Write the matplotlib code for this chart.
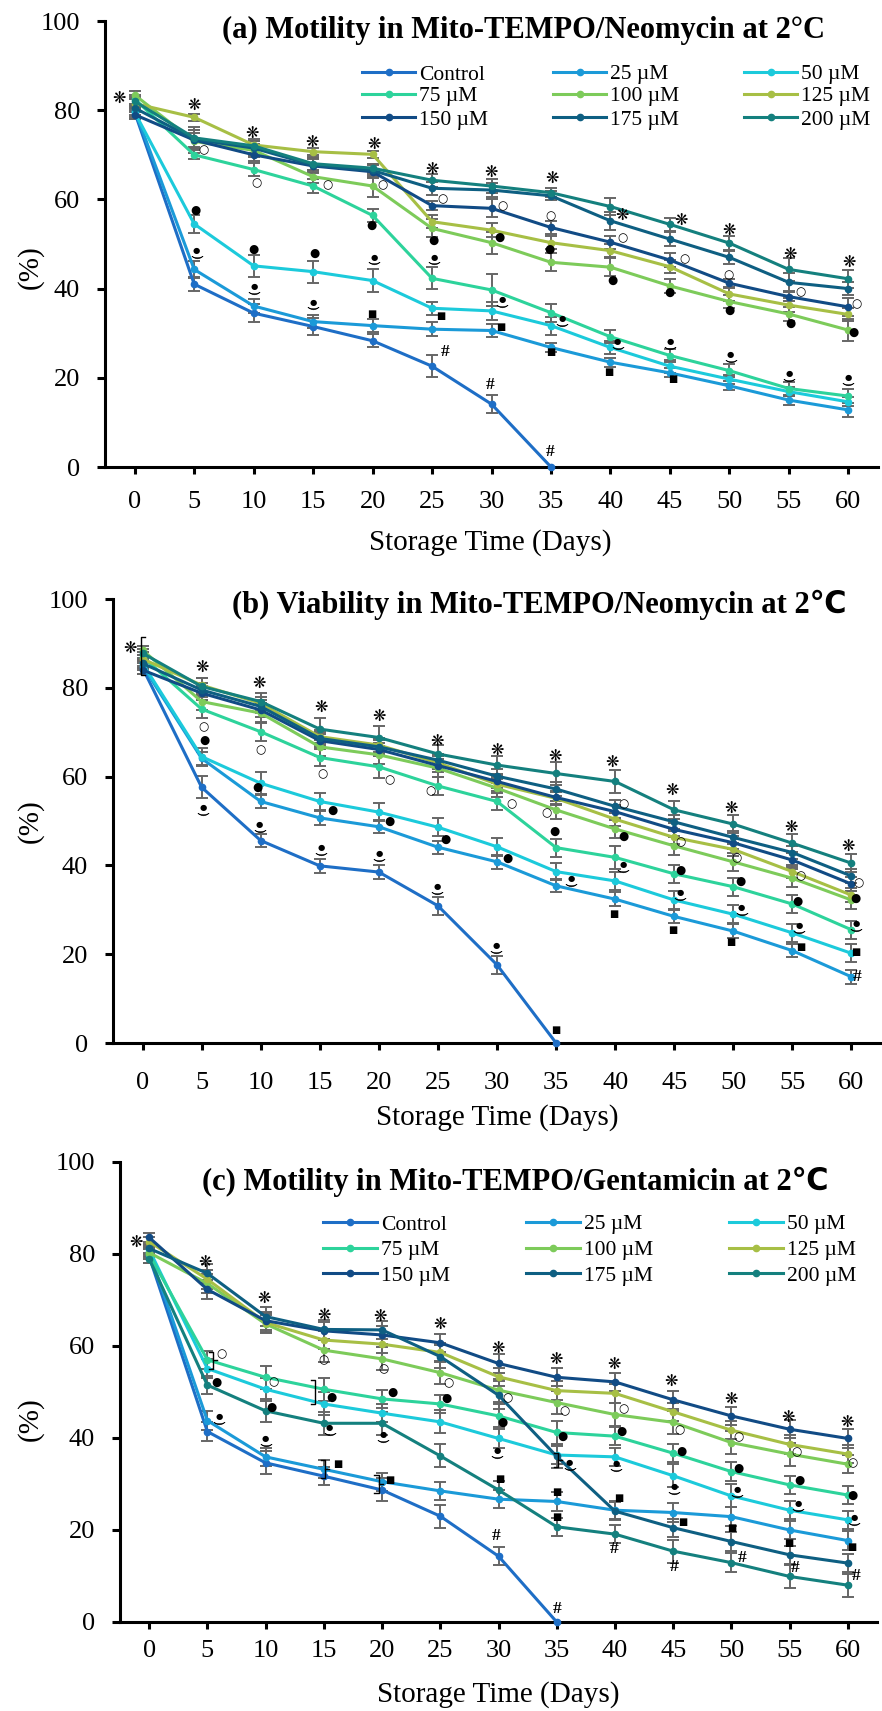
import numpy as np
import matplotlib
matplotlib.use("Agg")
import matplotlib.pyplot as plt
from matplotlib.lines import Line2D

plt.rcParams['font.family'] = ['Liberation Serif', 'DejaVu Serif']

# ---------------- data ----------------
days = [0, 5, 10, 15, 20, 25, 30, 35, 40, 45, 50, 55, 60]
labels = ['Control', '25 µM', '50 µM', '75 µM', '100 µM', '125 µM', '150 µM', '175 µM', '200 µM']
colors = ['#1E6EC6', '#1B9AD8', '#1CCADB', '#2DD39B', '#7DCB5A', '#A7BF45', '#114B85', '#0E5F82', '#14807E']

# (a) Motility, Mito-TEMPO/Neomycin
a_control = [79.5, 41.0, 34.5, 31.5, 28.3, 22.6, 14.1, 0]
a_25 = [80.0, 44.3, 36.1, 32.6, 31.7, 30.9, 30.6, 26.8, 23.5, 21.1, 18.2, 15.0, 12.8]
a_50 = [79.5, 54.5, 45.1, 43.8, 41.8, 35.6, 35.0, 31.7, 26.8, 22.6, 19.7, 16.9, 14.6]
a_75 = [82.5, 70.0, 66.7, 63.0, 56.4, 42.3, 39.7, 34.6, 29.2, 25.0, 21.6, 17.6, 15.9]
a_100 = [83.4, 73.0, 71.0, 65.1, 63.0, 53.5, 50.3, 45.9, 44.8, 40.6, 37.1, 34.3, 30.7]
a_125 = [81.5, 78.4, 72.2, 70.7, 70.1, 55.0, 53.1, 50.3, 48.5, 44.9, 38.8, 36.3, 34.2]
a_150 = [79.0, 73.3, 70.0, 67.5, 66.2, 58.6, 58.0, 53.7, 50.4, 46.4, 41.2, 38.2, 35.9]
a_175 = [80.5, 73.5, 71.5, 67.7, 66.5, 62.5, 62.1, 60.8, 55.2, 51.1, 47.0, 41.4, 40.0]
a_200 = [82.0, 73.8, 72.0, 68.0, 67.0, 64.3, 63.0, 61.5, 58.4, 54.4, 50.2, 44.3, 42.2]
a_control_err = [1.5, 1.5, 2.0, 2.0, 1.5, 2.5, 2.0, 0]
a_25_err = [1.0, 2.0, 1.5, 1.5, 1.5, 1.5, 1.5, 1.0, 1.0, 1.0, 1.0, 1.0, 1.5]
a_50_err = [1.0, 2.0, 2.5, 2.5, 2.5, 1.5, 2.0, 2.0, 1.5, 1.5, 1.0, 1.0, 1.0]
a_75_err = [1.0, 1.0, 1.5, 1.5, 1.5, 2.5, 3.5, 2.0, 1.5, 1.5, 1.5, 1.5, 1.5]
a_100_err = [1.0, 2.5, 1.5, 1.5, 2.5, 2.0, 2.5, 2.0, 2.0, 1.5, 1.5, 1.5, 2.5]
a_125_err = [1.0, 0.8, 0.8, 0.8, 0.8, 1.5, 1.5, 1.5, 1.5, 1.5, 1.5, 1.5, 1.5]
a_150_err = [1.0, 1.5, 1.5, 1.5, 1.5, 1.0, 2.0, 1.5, 1.5, 1.5, 1.0, 1.0, 2.0]
a_175_err = [1.0, 2.0, 1.5, 1.5, 1.5, 1.5, 1.5, 1.0, 2.0, 1.5, 1.5, 2.0, 1.5]
a_200_err = [1.0, 2.5, 1.5, 1.5, 1.0, 1.5, 1.5, 1.0, 2.0, 1.5, 1.5, 2.5, 2.0]

# (b) Viability, Mito-TEMPO/Neomycin
b_control = [84.5, 57.6, 45.6, 39.9, 38.5, 30.9, 17.6, 0]
b_25 = [85.0, 64.1, 54.4, 50.7, 48.7, 44.1, 40.8, 35.4, 32.4, 28.5, 25.2, 20.8, 14.9]
b_50 = [85.5, 64.5, 58.5, 54.4, 52.0, 48.6, 44.2, 38.6, 36.5, 32.2, 29.0, 24.8, 20.2]
b_75 = [87.0, 75.2, 70.1, 64.3, 62.2, 57.9, 54.4, 44.0, 41.8, 38.1, 35.2, 31.3, 25.5]
b_100 = [88.5, 76.9, 74.3, 66.7, 64.9, 61.9, 57.4, 52.5, 48.2, 44.4, 40.8, 37.1, 32.2]
b_125 = [86.5, 80.6, 76.5, 69.0, 67.1, 63.1, 58.3, 55.1, 50.4, 46.3, 43.6, 38.6, 33.3]
b_150 = [84.0, 78.8, 75.0, 68.1, 66.1, 62.5, 58.9, 55.3, 52.1, 48.1, 45.1, 41.2, 35.8]
b_175 = [85.5, 79.5, 75.8, 68.6, 66.7, 63.7, 60.1, 57.2, 53.3, 49.8, 46.3, 42.9, 37.6]
b_200 = [87.8, 80.3, 76.9, 70.7, 68.8, 65.1, 62.6, 60.7, 58.9, 52.5, 49.3, 45.0, 40.5]
b_control_err = [1.5, 2.5, 1.5, 1.5, 1.5, 2.0, 2.0, 0]
b_25_err = [1.0, 1.5, 1.5, 1.5, 1.5, 1.5, 1.5, 1.5, 1.5, 1.5, 1.5, 1.5, 1.5]
b_50_err = [1.0, 2.0, 2.5, 2.0, 2.0, 2.0, 2.0, 2.0, 2.0, 2.0, 2.0, 2.0, 2.0]
b_75_err = [1.0, 2.0, 2.0, 2.0, 2.5, 2.0, 2.0, 2.0, 2.5, 2.0, 2.0, 2.0, 2.0]
b_100_err = [1.0, 2.0, 2.0, 2.0, 2.0, 2.0, 2.0, 2.0, 2.0, 2.0, 2.0, 2.0, 2.0]
b_125_err = [1.0, 1.5, 1.5, 1.5, 1.5, 1.5, 1.5, 1.5, 1.5, 1.5, 1.5, 1.5, 1.5]
b_150_err = [1.0, 1.5, 1.5, 1.5, 1.5, 1.5, 1.5, 1.5, 1.5, 1.5, 1.5, 1.5, 1.5]
b_175_err = [1.0, 1.5, 1.5, 1.5, 1.5, 1.5, 1.5, 1.5, 1.5, 1.5, 1.5, 1.5, 1.5]
b_200_err = [1.0, 2.0, 2.0, 2.5, 2.5, 2.0, 2.0, 2.5, 2.5, 2.0, 2.0, 2.0, 2.0]

# (c) Motility, Mito-TEMPO/Gentamicin
c_control = [79.5, 41.4, 34.6, 31.7, 28.7, 23.0, 14.3, 0]
c_25 = [80.5, 43.8, 35.9, 33.2, 30.5, 28.5, 26.7, 26.2, 24.3, 23.8, 22.9, 20.0, 17.7]
c_50 = [81.0, 55.1, 50.6, 47.4, 45.4, 43.5, 39.9, 36.3, 35.9, 31.8, 27.4, 24.3, 22.2]
c_75 = [80.0, 57.0, 53.2, 50.6, 48.5, 47.4, 44.8, 41.2, 40.4, 36.7, 32.7, 29.8, 27.6]
c_100 = [80.3, 73.6, 64.8, 59.1, 57.2, 54.2, 50.4, 47.7, 45.1, 43.4, 39.0, 36.5, 34.3]
c_125 = [82.7, 74.5, 65.1, 61.3, 60.4, 58.6, 53.3, 50.3, 49.7, 45.7, 41.7, 38.6, 36.5]
c_150 = [83.6, 72.3, 65.5, 63.3, 62.4, 60.7, 56.2, 53.2, 52.2, 48.3, 44.8, 41.9, 39.9]
c_175 = [81.2, 75.8, 66.4, 63.6, 63.5, 57.7, 49.3, 36.0, 24.1, 20.5, 17.5, 14.6, 12.8]
c_200 = [79.0, 51.5, 45.9, 43.2, 43.2, 36.1, 28.7, 20.7, 19.1, 15.4, 12.9, 9.9, 8.0]
c_control_err = [1.5, 2.0, 2.5, 2.0, 2.5, 2.5, 2.0, 0]
c_25_err = [1.0, 2.0, 2.0, 2.0, 2.0, 2.0, 2.0, 2.0, 2.0, 2.0, 2.0, 2.0, 2.0]
c_50_err = [1.0, 2.0, 2.5, 2.5, 2.0, 2.5, 2.0, 2.0, 2.0, 2.5, 2.5, 2.0, 2.0]
c_75_err = [1.0, 2.0, 2.5, 2.5, 2.0, 2.0, 2.5, 2.5, 2.0, 2.0, 2.0, 2.0, 2.0]
c_100_err = [1.0, 2.0, 2.0, 2.5, 2.5, 2.5, 2.5, 2.5, 2.5, 2.5, 2.5, 2.5, 2.0]
c_125_err = [1.0, 2.0, 2.0, 2.0, 2.0, 2.0, 2.0, 2.0, 2.0, 2.0, 2.0, 2.0, 2.0]
c_150_err = [1.0, 2.0, 2.0, 2.0, 2.0, 2.0, 2.0, 2.0, 2.0, 2.0, 2.0, 2.0, 2.0]
c_175_err = [1.0, 2.0, 2.0, 2.0, 2.0, 2.5, 3.0, 2.5, 2.0, 2.0, 2.0, 2.0, 2.0]
c_200_err = [1.0, 2.0, 2.5, 2.5, 2.5, 2.5, 2.0, 2.0, 2.0, 2.5, 2.0, 2.5, 2.5]

# significance marks: (day, value, symbol)
a_notes = [(-1.3, 82.7, '*'),
    (5, 81, '*'), (5.8, 71.2, 'o'), (5.1, 57.6, 'f'), (5.2, 47.9, 'w'),
    (9.9, 74.8, '*'), (10.2, 63.8, 'o'), (10, 48.7, 'f'), (10, 39.7, 'w'),
    (14.9, 72.7, '*'), (16.2, 63.4, 'o'), (15.1, 47.9, 'f'), (15, 36.3, 'w'),
    (20.1, 72.4, '*'), (20.8, 63.2, 'o'), (19.9, 54.1, 'f'), (20.1, 46.4, 'w'), (19.9, 34.2, 's'),
    (25, 66.7, '*'), (25.9, 60.2, 'o'), (25.1, 50.9, 'f'), (25.2, 46.4, 'w'), (25.7, 33.9, 's'), (26.1, 25.7, '#'),
    (30, 66, '*'), (30.9, 58.6, 'o'), (30.7, 51.4, 'f'), (30.9, 36.8, 'w'), (30.8, 31.5, 's'), (29.9, 18.4, '#'),
    (35.1, 64.7, '*'), (35, 56.4, 'o'), (34.9, 48.9, 'f'), (35.9, 32.6, 'w'), (35, 25.7, 's'), (34.9, 3.4, '#'),
    (41, 56.4, '*'), (41, 51.3, 'o'), (40.2, 41.9, 'f'), (40.6, 27.4, 'w'), (39.9, 21.4, 's'),
    (45.9, 55.4, '*'), (46.2, 46.8, 'o'), (45, 39.1, 'f'), (45, 27.4, 'w'), (45.2, 19.7, 's'),
    (50, 53.1, '*'), (49.9, 43.2, 'o'), (50, 35.2, 'f'), (50.1, 24.5, 'w'),
    (55.1, 47.7, '*'), (56, 39.2, 'o'), (55.1, 32.2, 'f'), (55, 20.2, 'w'),
    (60.1, 45.8, '*'), (60.7, 36.7, 'o'), (60.4, 30.3, 'f'), (60, 19.3, 'w')]

b_notes = [(-1.04, 88.9, '*'),
    (5, 84.6, '*'), (5.2, 71.2, 'o'), (5.2, 68.2, 'f'), (5.1, 52.3, 'w'),
    (9.9, 81, '*'), (10, 66, 'o'), (9.7, 57.5, 'f'), (9.9, 48.6, 'w'),
    (15.1, 75.5, '*'), (15.2, 60.6, 'o'), (16.1, 52.5, 'f'), (15.1, 43.3, 'w'),
    (20, 73.5, '*'), (20.9, 59.4, 'o'), (20.9, 50, 'f'), (20, 42, 'w'),
    (24.9, 68, '*'), (24.4, 56.8, 'o'), (25.6, 45.9, 'f'), (24.9, 34.6, 'w'),
    (30, 66, '*'), (31.2, 54, 'o'), (30.9, 41.6, 'f'), (29.9, 21.3, 'w'),
    (34.9, 64.6, '*'), (34.2, 51.9, 'o'), (34.9, 47.7, 'f'), (36.3, 36.3, 'w'), (35, 3, 's'),
    (39.7, 63.1, '*'), (40.7, 54, 'o'), (40.7, 46.5, 'f'), (40.7, 39.6, 'w'), (39.9, 29, 's'),
    (44.8, 56.8, '*'), (45.5, 45.3, 'o'), (45.5, 38.8, 'f'), (45.5, 33.1, 'w'), (44.9, 25.5, 's'),
    (49.8, 52.9, '*'), (50.3, 41.7, 'o'), (50.6, 36.5, 'f'), (50.7, 29.8, 'w'), (49.8, 22.8, 's'),
    (54.9, 48.6, '*'), (55.7, 37.6, 'o'), (55.4, 32, 'f'), (55.6, 25.8, 'w'), (55.7, 21.7, 's'),
    (59.7, 44.2, '*'), (60.6, 36.1, 'o'), (60.3, 32.6, 'f'), (60.4, 26.2, 'w'), (60.4, 20.6, 's'), (60.5, 14.9, '#')]

c_notes = [(-1.1, 82.5, '*'),
    (4.8, 78.1, '*'), (6.2, 58.4, 'o'), (5.75, 52.1, 'f'), (6, 44.1, 'w'),
    (9.9, 70.4, '*'), (10.7, 52.2, 'o'), (10.5, 46.6, 'f'), (10, 39.2, 'w'),
    (15, 66.7, '*'), (15, 57, 'o'), (15.7, 48.8, 'f'), (15.5, 41.7, 'w'), (16.2, 34.3, 's'),
    (19.8, 66.4, '*'), (20.1, 55, 'o'), (20.9, 49.9, 'f'), (20.1, 40.1, 'w'), (20.7, 30.9, 's'),
    (25, 64.6, '*'), (25.7, 52.1, 'o'), (25.5, 48.6, 'f'),
    (30, 59.5, '*'), (30.8, 48.8, 'o'), (30.3, 43.5, 'f'), (29.9, 36.7, 'w'), (30.1, 31, 's'), (29.8, 18.7, '#'),
    (34.9, 57, '*'), (35.7, 45.9, 'o'), (35.5, 40.3, 'f'), (36.1, 34, 'w'), (35, 28.2, 's'), (35, 22.9, 's'), (35, 2.8, '#'),
    (39.9, 56, '*'), (40.7, 46.3, 'o'), (40.6, 41.4, 'f'), (40.1, 33.9, 'w'), (40.3, 27, 's'), (39.9, 15.8, '#'),
    (44.8, 52.2, '*'), (45.5, 41.7, 'o'), (45.7, 37, 'f'), (45.1, 28.7, 'w'), (45.8, 21.7, 's'), (45.1, 11.9, '#'),
    (50, 48.5, '*'), (50.6, 40.3, 'o'), (50.6, 33.5, 'f'), (50.5, 28.2, 'w'), (50, 20.5, 's'), (50.9, 14, '#'),
    (54.9, 44.5, '*'), (55.6, 37, 'o'), (55.8, 30.7, 'f'), (55.7, 25.2, 'w'), (54.9, 17.2, 's'), (55.5, 11.7, '#'),
    (59.9, 43.5, '*'), (60.4, 34.7, 'o'), (60.4, 27.6, 'f'), (60.5, 22, 'w'), (60.3, 16.4, 's'), (60.7, 10, '#')]

# brackets: (day, low, high, kind)
b_brackets = [(-0.1, 82.9, 91.5, '[')]
c_brackets = [(5.5, 54.9, 58.8, '}'), (14.25, 47.5, 52.6, ']'), (15.1, 31.2, 35.2, '}'),
              (19.7, 28.0, 32.0, '}'), (35.1, 33.8, 36.8, '}')]

# ---------------- figure ----------------
W, H = 882, 1711
fig = plt.figure(figsize=(W / 100, H / 100), dpi=100)


def px_axes(l, r, t, b):
    return fig.add_axes([l / W, 1 - b / H, (r - l) / W, (b - t) / H])


def style(ax, xpad):
    ax.set_xlim(-2.5, 62.5)
    ax.set_ylim(0, 100)
    for s in ['top', 'right']:
        ax.spines[s].set_visible(False)
    for s in ['left', 'bottom']:
        ax.spines[s].set_linewidth(2.2)
    ax.set_xticks(days)
    ax.set_yticks(range(0, 101, 20))
    ax.tick_params(axis='both', direction='out', width=2.2, labelsize=19)
    ax.tick_params(axis='x', length=5, pad=xpad)
    ax.tick_params(axis='y', length=6, pad=12)


def draw_series(ax, series, errs):
    for vals, err, c in zip(series, errs, colors):
        x = days[:len(vals)]
        ax.errorbar(x, vals, yerr=err, fmt='none', ecolor='#666666', elinewidth=1.4,
                    capsize=4.2, capthick=1.4, zorder=2, clip_on=False)
        ax.plot(x, vals, '-o', color=c, lw=2.2, ms=4.5, zorder=3, clip_on=False)


def draw_notes(ax, notes):
    for x, y, s in notes:
        if s == '*':
            ax.text(x, y, '❋', fontsize=11.5, ha='center', va='center', family='DejaVu Sans', zorder=5)
        elif s == 'o':
            ax.text(x, y, '○', fontsize=8.5, ha='center', va='center', family='DejaVu Sans', zorder=5)
        elif s == 'f':
            ax.text(x, y, '●', fontsize=8.5, ha='center', va='center', family='DejaVu Sans', zorder=5)
        elif s == 's':
            ax.text(x, y, '■', fontsize=7, ha='center', va='center', family='DejaVu Sans', zorder=5)
        elif s == '#':
            ax.text(x, y, '#', fontsize=12.5, ha='center', va='center', fontweight='bold', zorder=5)
        elif s == 'w':
            ax.annotate('●', (x, y), xytext=(0, 2.2), textcoords='offset points', fontsize=6,
                        ha='center', va='center', family='DejaVu Sans', zorder=5)
            ax.plot([x], [y - 0.75], marker=r'$\smile$', ms=8, color='k', mew=0.4,
                    linestyle='none', zorder=5, clip_on=False)


def draw_brackets(ax, brackets):
    for x, lo, hi, kind in brackets:
        d = 0.35
        if kind == '[':
            ax.plot([x + d, x, x, x + d], [hi, hi, lo, lo], color='k', lw=1, clip_on=False, zorder=5)
        else:
            ax.plot([x - d, x, x, x - d], [hi, hi, lo, lo], color='k', lw=1, clip_on=False, zorder=5)
            if kind == '}':
                ax.plot([x, x + d], [(lo + hi) / 2] * 2, color='k', lw=1, clip_on=False, zorder=5)


def draw_legend(x0s, ys, hl):
    for i, (name, c) in enumerate(zip(labels, colors)):
        r, k = divmod(i, 3)
        x, y = x0s[k], ys[r]
        fig.add_artist(Line2D([x / W, (x + hl) / W], [1 - y / H] * 2, color=c, lw=2.2))
        fig.add_artist(Line2D([(x + hl / 2) / W], [1 - y / H], color=c, marker='o', ms=4.5))
        fig.text((x + hl + 4) / W, 1 - (y + 7.5) / H, name, fontsize=15.5, ha='left', va='baseline')


panels = [
    dict(box=(105, 878, 21, 467), xpad=12,
         series=[a_control, a_25, a_50, a_75, a_100, a_125, a_150, a_175, a_200],
         errs=[a_control_err, a_25_err, a_50_err, a_75_err, a_100_err, a_125_err, a_150_err, a_175_err, a_200_err],
         notes=a_notes, brackets=[],
         title='(a) Motility in Mito-TEMPO/Neomycin at 2°C', title_xy=(523, 30),
         ylab_xy=(30, 267), xlab_xy=(490, 543)),
    dict(box=(113, 881, 599, 1043), xpad=16,
         series=[b_control, b_25, b_50, b_75, b_100, b_125, b_150, b_175, b_200],
         errs=[b_control_err, b_25_err, b_50_err, b_75_err, b_100_err, b_125_err, b_150_err, b_175_err, b_200_err],
         notes=b_notes, brackets=b_brackets,
         title='(b) Viability in Mito-TEMPO/Neomycin at 2℃', title_xy=(539, 605),
         ylab_xy=(30, 821), xlab_xy=(497, 1118)),
    dict(box=(120, 877, 1162, 1622), xpad=8,
         series=[c_control, c_25, c_50, c_75, c_100, c_125, c_150, c_175, c_200],
         errs=[c_control_err, c_25_err, c_50_err, c_75_err, c_100_err, c_125_err, c_150_err, c_175_err, c_200_err],
         notes=c_notes, brackets=c_brackets,
         title='(c) Motility in Mito-TEMPO/Gentamicin at 2℃', title_xy=(515, 1182),
         ylab_xy=(30, 1419), xlab_xy=(498, 1695)),
]

for p in panels:
    ax = px_axes(*p['box'])
    style(ax, p['xpad'])
    draw_series(ax, p['series'], p['errs'])
    draw_notes(ax, p['notes'])
    draw_brackets(ax, p['brackets'])
    tx, ty = p['title_xy']
    fig.text(tx / W, 1 - ty / H, p['title'], fontsize=22, fontweight='bold', ha='center', va='center',
             family=['Liberation Serif', 'DejaVu Sans'])
    lx, ly = p['ylab_xy']
    fig.text(lx / W, 1 - ly / H, '(%)', fontsize=21, rotation=90, ha='center', va='center')
    xx, xy = p['xlab_xy']
    fig.text(xx / W, 1 - xy / H, 'Storage Time (Days)', fontsize=21, ha='center', va='center')

draw_legend([362, 553, 744], [72, 94, 117], 53)
draw_legend([323, 526, 729], [1222, 1248, 1273], 54)

fig.savefig('out.png', dpi=100)
